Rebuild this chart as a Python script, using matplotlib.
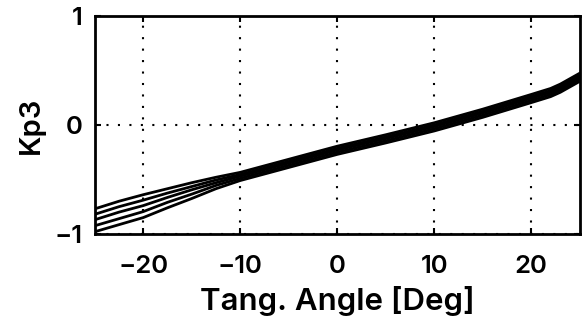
import numpy as np
import matplotlib
matplotlib.use("Agg")
import matplotlib.pyplot as plt

plt.rcParams['font.family'] = ['Inter', 'DejaVu Sans']

# Tangential angle samples [deg]
angle = [-25, -22.5, -20, -17.5, -15, -12.5, -10, -5, 0, 5, 10, 15, 20, 22, 23, 24, 25]

# Kp3 gain curves, one per operating condition
kp3_a = [-0.77, -0.70, -0.64, -0.585, -0.53, -0.48, -0.435, -0.315, -0.195, -0.09, 0.02, 0.145, 0.28, 0.335, 0.375, 0.425, 0.475]
kp3_b = [-0.82, -0.75, -0.69, -0.625, -0.565, -0.505, -0.455, -0.335, -0.215, -0.11, 0.0, 0.125, 0.26, 0.315, 0.355, 0.405, 0.455]
kp3_c = [-0.87, -0.80, -0.74, -0.665, -0.595, -0.53, -0.47, -0.35, -0.23, -0.125, -0.015, 0.11, 0.245, 0.30, 0.34, 0.39, 0.44]
kp3_d = [-0.925, -0.86, -0.795, -0.71, -0.635, -0.555, -0.49, -0.37, -0.25, -0.145, -0.035, 0.09, 0.225, 0.28, 0.32, 0.37, 0.42]
kp3_e = [-0.98, -0.915, -0.85, -0.76, -0.675, -0.585, -0.51, -0.39, -0.27, -0.165, -0.055, 0.07, 0.205, 0.26, 0.30, 0.35, 0.40]

xticks = [-20, -10, 0, 10, 20]
yticks = [-1, 0, 1]

fig = plt.figure(figsize=(5.85, 3.2), dpi=100)
ax = fig.add_axes([0.162, 0.269, 0.829, 0.681])

for series in (kp3_a, kp3_b, kp3_c, kp3_d, kp3_e):
    ax.plot(angle, series, color='black', linewidth=2.0)

ax.set_xlim(-25, 25)
ax.set_ylim(-1, 1)
ax.set_xticks(xticks)
ax.set_yticks(yticks)
ax.set_xticklabels(['\u221220', '\u221210', '0', '10', '20'])
ax.set_yticklabels(['\u22121', '0', '1'])

ax.grid(True, color='black', linestyle=(0, (1, 4.5)), linewidth=1.5)
ax.tick_params(direction='in', length=4, width=1.5, top=True, right=True,
               labelsize=18.5, colors='black')
ax.tick_params(axis='x', pad=15)
ax.tick_params(axis='y', pad=9)
for lbl in ax.get_xticklabels() + ax.get_yticklabels():
    lbl.set_fontweight(600)
for sp in ax.spines.values():
    sp.set_linewidth(2.0)

ax.set_xlabel('Tang. Angle [Deg]', fontsize=22.5, fontweight=600, labelpad=6)
ax.set_ylabel('Kp3', fontsize=21, fontweight=600, labelpad=7)

fig.savefig('out.png', dpi=100)
